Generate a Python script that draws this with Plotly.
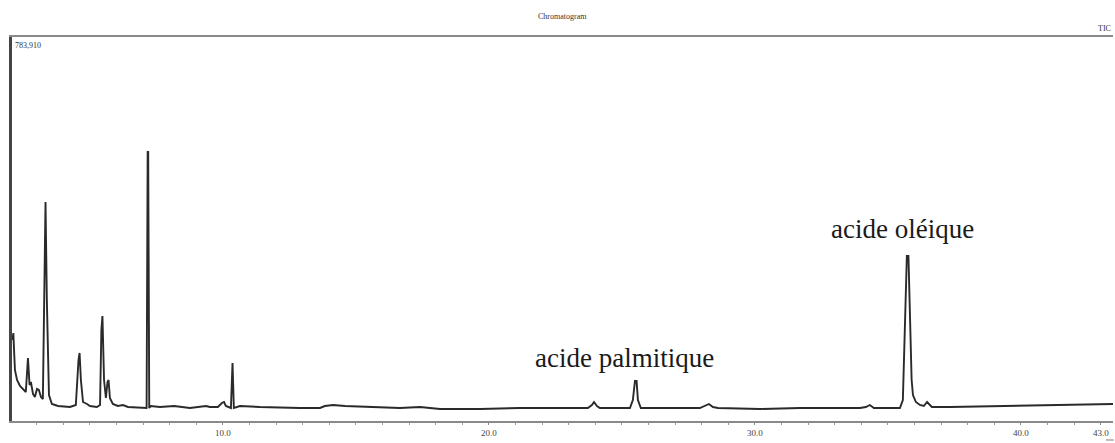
import plotly.graph_objects as go

# Retention time (min) and TIC intensity
time_min = [2.09, 2.12, 2.18, 2.26, 2.37, 2.52, 2.59, 2.67, 2.73, 2.78, 2.86, 2.93, 3.01, 3.08,
            3.16, 3.23, 3.29, 3.33, 3.38, 3.46, 3.57, 3.80, 4.25, 4.47, 4.57, 4.61, 4.66, 4.74,
            4.89, 5.00, 5.26, 5.38, 5.43, 5.47, 5.53, 5.60, 5.66, 5.70, 5.75, 5.86, 6.05, 6.24,
            6.43, 7.13, 7.17, 7.19, 7.23, 7.29, 7.63, 8.16, 8.76, 9.36, 9.51, 9.81, 9.96, 10.04,
            10.11, 10.30, 10.36, 10.41, 10.64, 11.39, 12.89, 13.65, 13.83, 14.14, 14.59, 15.53,
            16.65, 17.41, 18.16, 19.66, 21.17, 22.67, 23.72, 23.87, 23.95, 24.06, 24.17, 25.30,
            25.41, 25.49, 25.55, 25.60, 25.71, 27.93, 28.12, 28.27, 28.42, 28.61, 30.19, 31.69,
            33.95, 34.17, 34.32, 34.47, 34.70, 35.45, 35.56, 35.64, 35.71, 35.77, 35.83, 35.89,
            35.94, 36.05, 36.20, 36.35, 36.47, 36.54, 36.65, 37.33, 39.21, 41.09, 43.46]
intensity = [165350, 179640, 104110, 83700, 71450, 63280, 59200, 128610, 73490, 79610, 55120, 48990,
             65320, 63280, 48990, 44910, 247010, 447070, 247010, 53080, 34700, 30620, 28580, 32660,
             124530, 138820, 83700, 38790, 34700, 30620, 28580, 32660, 185770, 214350, 83700, 46950,
             79610, 83700, 46950, 34700, 30620, 32660, 28580, 26540, 549140, 549140, 26540, 30620,
             28580, 30620, 26540, 30620, 28580, 28580, 36750, 38790, 30620, 26540, 118400, 26540,
             30620, 28580, 26540, 26540, 30620, 32660, 30620, 28580, 26540, 28580, 24500, 24500,
             26540, 26540, 26540, 32660, 38790, 30620, 26540, 26540, 42870, 81660, 81660, 42870,
             26540, 26540, 30620, 34700, 28580, 26540, 24500, 26540, 26540, 28580, 32660, 26540,
             26540, 26540, 42870, 185770, 336830, 336830, 185770, 83700, 53080, 38790, 32660,
             30620, 38790, 34700, 28580, 28580, 30620, 32660, 34700]

max_intensity = 783910
tick_vals = [10, 20, 30, 40, 43]
tick_text = ["10.0", "20.0", "30.0", "40.0", "43.0"]
peak_labels = ["acide palmitique", "acide oléique"]
peak_label_time = [25.08, 35.56]
peak_label_int = [128600, 391900]

fig = go.Figure()
fig.add_trace(go.Scatter(x=time_min, y=intensity, mode="lines",
                         line=dict(color="#2a2a2a", width=1.9), showlegend=False,
                         hoverinfo="x+y"))

for lbl, tx, ty in zip(peak_labels, peak_label_time, peak_label_int):
    fig.add_annotation(x=tx, y=ty, text=lbl, showarrow=False, xref="x", yref="y",
                       font=dict(family="Liberation Serif", size=27, color="#1a1a1a"))

fig.add_annotation(x=0.5, y=1, xref="paper", yref="paper", yshift=21, text="Chromatogram",
                   showarrow=False, xanchor="center", yanchor="middle",
                   font=dict(family="Liberation Serif", size=8, color="#333"))
fig.add_annotation(x=1, y=1, xref="paper", yref="paper", yshift=9, text="TIC",
                   showarrow=False, xanchor="right", yanchor="middle",
                   font=dict(family="Liberation Serif", size=8, color="#333"))
fig.add_annotation(x=0, y=1, xref="paper", yref="paper", xshift=1, yshift=-8,
                   text=f"{max_intensity:,}", showarrow=False, xanchor="left", yanchor="middle",
                   font=dict(family="Liberation Serif", size=8, color="#333"))
fig.add_annotation(x=1, y=0, xref="paper", yref="paper", xshift=3, yshift=-23, text="min",
                   showarrow=False, xanchor="right", yanchor="bottom",
                   font=dict(family="Liberation Serif", size=5, color="#555"))

fig.update_layout(
    width=1115, height=443,
    margin=dict(l=12, r=2, t=37, b=22),
    paper_bgcolor="white", plot_bgcolor="white",
    xaxis=dict(range=[2.07, 43.46], tickvals=tick_vals, ticktext=tick_text,
               showgrid=False, zeroline=False, showline=True, linecolor="#8a8a8a",
               linewidth=1.5, mirror=True, ticks="outside", ticklen=2, tickcolor="#8a8a8a",
               tickfont=dict(family="Liberation Serif", size=9, color="#444"),
               minor=dict(dtick=1, ticks="outside", ticklen=2, tickcolor="#999", showgrid=False)),
    yaxis=dict(range=[0, max_intensity], showgrid=False, zeroline=False, showticklabels=False,
               showline=True, linecolor="#444", linewidth=2.5, ticks=""),
)

fig.write_html("out.html", config={"displayModeBar": False},
               post_script="document.body.style.margin='0';document.body.style.overflow='hidden';")
